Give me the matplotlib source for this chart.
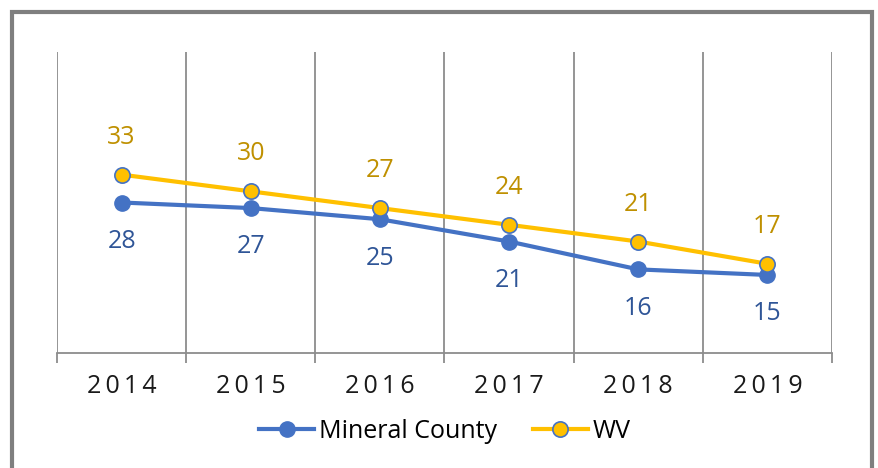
import matplotlib.pyplot as plt
from matplotlib.patches import Rectangle

# Datos del gráfico
years = ["2014", "2015", "2016", "2017", "2018", "2019"]
mineral = [28, 27, 25, 21, 16, 15]
wv = [33, 30, 27, 24, 21, 17]

plt.rcParams['font.family'] = ['Open Sans', 'DejaVu Sans']

fig = plt.figure(figsize=(8.79, 4.68), dpi=100)
ax = fig.add_axes([57 / 879, 1 - 353 / 468, 775 / 879, 301 / 468])

x = list(range(len(years)))
ax.plot(x, mineral, color="#4472C4", lw=3, marker="o", ms=11,
        mfc="#4472C4", mec="#4472C4", label="Mineral County", zorder=3)
ax.plot(x, wv, color="#FFC000", lw=3, marker="o", ms=11,
        mfc="#FFC000", mec="#4472C4", mew=1.2, label="WV", zorder=4)

for i, v in enumerate(mineral):
    ax.annotate(str(v), (i, v), xytext=(0, -28), textcoords="offset points",
                ha="center", va="center", fontsize=18, color="#2F5597")
for i, v in enumerate(wv):
    ax.annotate(str(v), (i, v), xytext=(0, 27), textcoords="offset points",
                ha="center", va="center", fontsize=18, color="#BF9000")

ax.set_xlim(-0.5, 5.5)
ax.set_ylim(1, 55)

# líneas verticales entre categorías
for b in [i - 0.5 for i in range(7)]:
    ax.axvline(b, color="#8C8C8C", lw=1.3, zorder=1)

for s in ["top", "right", "left"]:
    ax.spines[s].set_visible(False)
ax.spines["bottom"].set_color("#8C8C8C")
ax.spines["bottom"].set_linewidth(1.3)
ax.set_yticks([])
ax.set_xticks([i - 0.5 for i in range(7)], minor=False)
ax.set_xticklabels([])
ax.tick_params(axis="x", which="major", length=7, width=1.3, color="#8C8C8C")
ax.set_xticks(x, minor=True)
ax.set_xticklabels(["\u2009".join(y) for y in years], minor=True, fontsize=18,
                   color="#1A1A1A")
ax.tick_params(axis="x", which="minor", length=0, pad=15)

fig.legend(loc="center", bbox_to_anchor=(445 / 879, 1 - 431 / 468), ncol=2,
           frameon=False, fontsize=18, handlelength=2.2, columnspacing=1.4,
           handletextpad=0.2)

# marco del gráfico
fig.patches.append(Rectangle((12.5 / 879, -0.1), (872 - 12.5) / 879,
                             1.1 - 12.5 / 468, transform=fig.transFigure,
                             fill=False, edgecolor="#7F7F7F", lw=3))

fig.savefig("out.png", dpi=100)
